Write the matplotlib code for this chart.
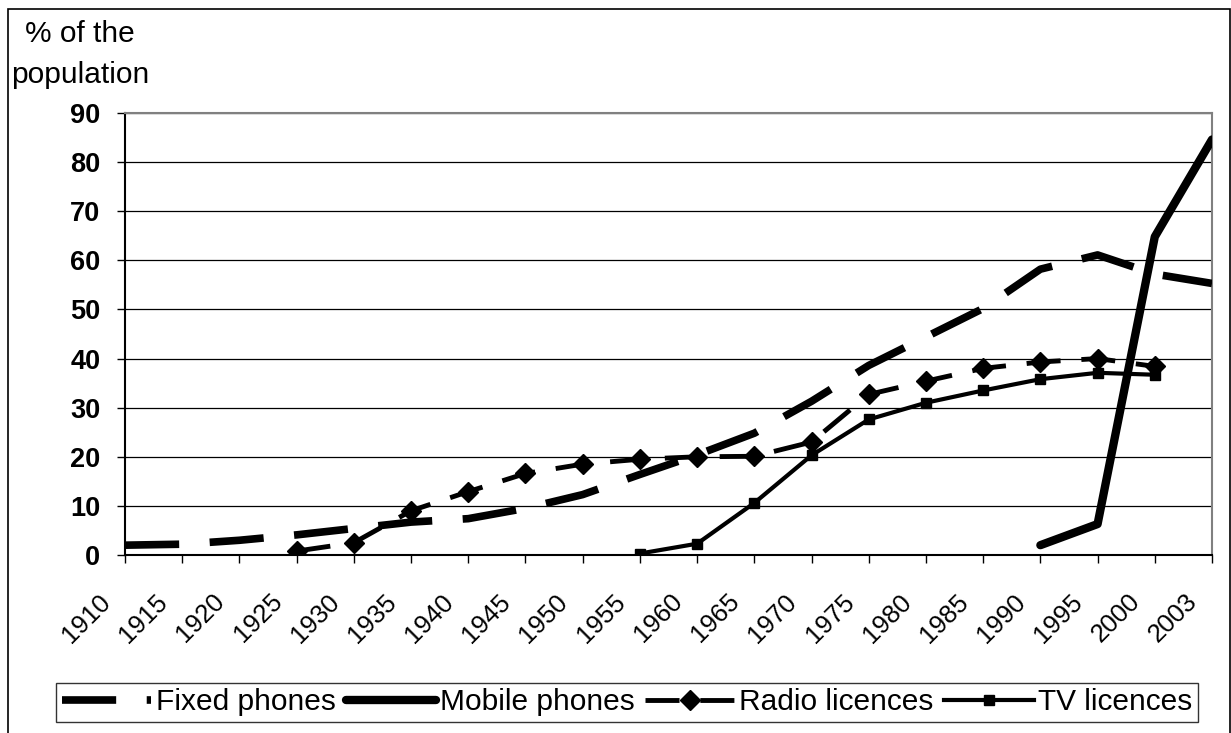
import numpy as np
import matplotlib
matplotlib.use('Agg')
import matplotlib.pyplot as plt
import matplotlib.transforms as mtransforms
from matplotlib.patches import Rectangle

nan = np.nan
years = ['1910', '1915', '1920', '1925', '1930', '1935', '1940', '1945', '1950', '1955',
         '1960', '1965', '1970', '1975', '1980', '1985', '1990', '1995', '2000', '2003']
fixed_phones = [2.0, 2.2, 3.0, 4.1, 5.4, 6.7, 7.4, 9.5, 12.3, 16.4,
                20.4, 24.8, 31.3, 38.6, 44.4, 50.2, 58.2, 61.1, 57.2, 55.3]
mobile_phones = [nan] * 16 + [2.0, 6.3, 64.8, 84.6]
radio_licences = [nan, nan, nan, 0.8, 2.5, 9.0, 12.9, 16.6, 18.5, 19.5,
                  20.0, 20.1, 23.0, 32.7, 35.4, 38.0, 39.3, 40.0, 38.4, nan]
tv_licences = [nan] * 9 + [0.3, 2.3, 10.6, 20.3, 27.6, 31.0, 33.5, 35.8, 37.1, 36.7, nan]
y_ticks = [0, 10, 20, 30, 40, 50, 60, 70, 80, 90]

plt.rcParams['font.family'] = ['Liberation Sans', 'DejaVu Sans']
plt.rcParams['lines.scale_dashes'] = False

W, H = 1231, 733
fig = plt.figure(figsize=(W / 100, H / 100), dpi=100)
ax = fig.add_axes([125 / W, 1 - 555 / H, (1212 - 125) / W, (555 - 113) / H])

x = np.arange(len(years))
ax.plot(x, fixed_phones, color='black', lw=5.5, dashes=(39, 22),
        dash_capstyle='butt', label='Fixed phones', zorder=3)
ax.plot(x, mobile_phones, color='black', lw=6, solid_capstyle='round',
        label='Mobile phones', zorder=4)
ax.plot(x, radio_licences, color='black', lw=3.5, dashes=(24.5, 15),
        dash_capstyle='butt', marker='D', ms=10, label='Radio licences', zorder=5)
ax.plot(x, tv_licences, color='black', lw=3, marker='s', ms=7,
        label='TV licences', zorder=6)

ax.set_xlim(0, len(years) - 1)
ax.set_ylim(0, 90)
ax.set_yticks(y_ticks)
ax.set_yticklabels([str(v) for v in y_ticks], fontsize=19.5, fontweight='bold')
ax.set_xticks(x)
ax.set_xticklabels(years, fontsize=18.5, rotation=45, ha='right', va='top')
ax.tick_params(axis='y', direction='out', length=5.8, width=1, pad=12, colors='black')
ax.tick_params(axis='x', direction='out', length=5.8, width=1, pad=19, colors='black')

offset = mtransforms.ScaledTranslation(-10 / 100, 0, fig.dpi_scale_trans)
for lab in ax.get_xticklabels():
    lab.set_transform(lab.get_transform() + offset)

ax.grid(axis='y', color='black', lw=0.9)
ax.set_axisbelow(True)
for s in ['top', 'right']:
    ax.spines[s].set_color('#808080')
    ax.spines[s].set_linewidth(1.5)
for s in ['left', 'bottom']:
    ax.spines[s].set_color('black')
    ax.spines[s].set_linewidth(1.5)

fig.text(80 / W, 1 - 54.5 / H, '% of the\npopulation', ha='center', va='center',
         fontsize=21.5, linespacing=1.55)

leg = ax.legend(loc='center', bbox_to_anchor=((58 + 1196) / 2 / W, 1 - 702.5 / H),
                bbox_transform=fig.transFigure, ncol=4, fontsize=21.5, frameon=True,
                fancybox=False, edgecolor='black', handlelength=3.0, handletextpad=0.15,
                columnspacing=0.35, borderpad=0.2, borderaxespad=0)
leg.get_frame().set_linewidth(1.0)

fig.patches.append(Rectangle((8 / W, -0.02), (1230 - 8) / W, 1 - 9 / H + 0.02,
                             transform=fig.transFigure, fill=False,
                             edgecolor='black', lw=1.2))

fig.savefig('out.png', dpi=100)
